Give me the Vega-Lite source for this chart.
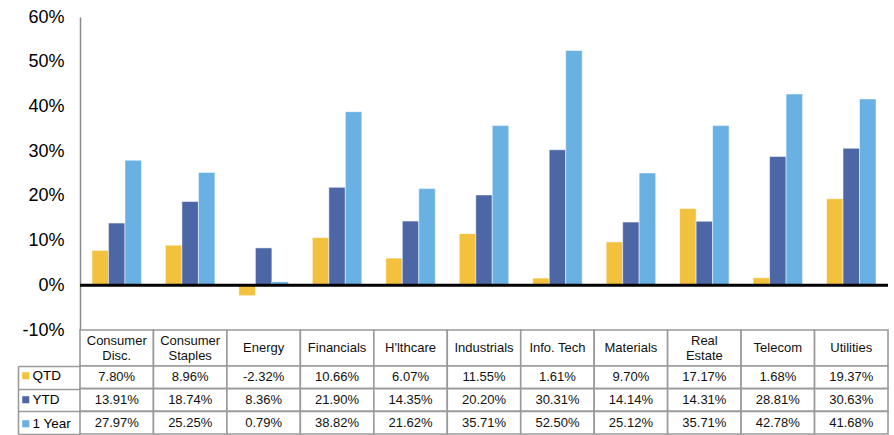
{
  "$schema": "https://vega.github.io/schema/vega-lite/v6.json",
  "padding": {"left": 17, "top": 8, "right": 4, "bottom": 0},
  "config": {
    "view": {"stroke": null},
    "font": "Liberation Sans",
    "locale": {"number": {"decimal": ".", "thousands": ",", "grouping": [3], "currency": ["$", ""], "minus": "-"}}
  },
  "datasets": {
    "returns": [
      {"category": "Consumer\nDisc.", "series": "QTD", "value": 0.0780},
      {"category": "Consumer\nDisc.", "series": "YTD", "value": 0.1391},
      {"category": "Consumer\nDisc.", "series": "1 Year", "value": 0.2797},
      {"category": "Consumer\nStaples", "series": "QTD", "value": 0.0896},
      {"category": "Consumer\nStaples", "series": "YTD", "value": 0.1874},
      {"category": "Consumer\nStaples", "series": "1 Year", "value": 0.2525},
      {"category": "Energy", "series": "QTD", "value": -0.0232},
      {"category": "Energy", "series": "YTD", "value": 0.0836},
      {"category": "Energy", "series": "1 Year", "value": 0.0079},
      {"category": "Financials", "series": "QTD", "value": 0.1066},
      {"category": "Financials", "series": "YTD", "value": 0.2190},
      {"category": "Financials", "series": "1 Year", "value": 0.3882},
      {"category": "H'lthcare", "series": "QTD", "value": 0.0607},
      {"category": "H'lthcare", "series": "YTD", "value": 0.1435},
      {"category": "H'lthcare", "series": "1 Year", "value": 0.2162},
      {"category": "Industrials", "series": "QTD", "value": 0.1155},
      {"category": "Industrials", "series": "YTD", "value": 0.2020},
      {"category": "Industrials", "series": "1 Year", "value": 0.3571},
      {"category": "Info. Tech", "series": "QTD", "value": 0.0161},
      {"category": "Info. Tech", "series": "YTD", "value": 0.3031},
      {"category": "Info. Tech", "series": "1 Year", "value": 0.5250},
      {"category": "Materials", "series": "QTD", "value": 0.0970},
      {"category": "Materials", "series": "YTD", "value": 0.1414},
      {"category": "Materials", "series": "1 Year", "value": 0.2512},
      {"category": "Real\nEstate", "series": "QTD", "value": 0.1717},
      {"category": "Real\nEstate", "series": "YTD", "value": 0.1431},
      {"category": "Real\nEstate", "series": "1 Year", "value": 0.3571},
      {"category": "Telecom", "series": "QTD", "value": 0.0168},
      {"category": "Telecom", "series": "YTD", "value": 0.2881},
      {"category": "Telecom", "series": "1 Year", "value": 0.4278},
      {"category": "Utilities", "series": "QTD", "value": 0.1937},
      {"category": "Utilities", "series": "YTD", "value": 0.3063},
      {"category": "Utilities", "series": "1 Year", "value": 0.4168}
    ],
    "cats": [
      {"category": "Consumer\nDisc."}, {"category": "Consumer\nStaples"}, {"category": "Energy"},
      {"category": "Financials"}, {"category": "H'lthcare"}, {"category": "Industrials"},
      {"category": "Info. Tech"}, {"category": "Materials"}, {"category": "Real\nEstate"},
      {"category": "Telecom"}, {"category": "Utilities"}
    ]
  },
  "spacing": 0,
  "bounds": "flush",
  "vconcat": [
    {
      "width": 808,
      "height": 313,
      "layer": [
        {
          "data": {"name": "returns"},
          "mark": {"type": "bar", "stroke": "#ffffff", "strokeWidth": 1, "strokeOpacity": 0.5},
          "encoding": {
            "x": {"field": "category", "type": "nominal", "sort": null, "scale": {"paddingInner": 0, "paddingOuter": 0}, "axis": null},
            "xOffset": {"field": "series", "type": "nominal", "sort": ["QTD", "YTD", "1 Year"], "scale": {"paddingInner": 0, "paddingOuter": 0.727}},
            "y": {
              "field": "value", "type": "quantitative",
              "scale": {"domain": [-0.1, 0.6], "nice": false, "zero": false},
              "axis": {
                "values": [-0.1, 0, 0.1, 0.2, 0.3, 0.4, 0.5, 0.6],
                "format": ".0%", "ticks": false, "grid": false, "title": null,
                "labelFontSize": 18, "labelColor": "#000000", "labelPadding": 16,
                "domainColor": "#8a8a8a", "domainWidth": 1.5
              }
            },
            "color": {
              "field": "series", "type": "nominal",
              "scale": {"domain": ["QTD", "YTD", "1 Year"], "range": ["#F2C13D", "#4D66A6", "#69B1E3"]},
              "legend": {
                "orient": "none", "legendX": -61, "legendY": 352, "title": null,
                "symbolType": "square", "symbolSize": 50, "symbolStrokeWidth": 0,
                "labelFontSize": 13.5, "labelColor": "#000000", "labelOffset": 0,
                "rowPadding": 9, "padding": 0
              }
            }
          }
        },
        {
          "data": {"values": [{}]},
          "mark": {"type": "rule", "color": "#000000", "strokeWidth": 3},
          "encoding": {"y": {"datum": 0}}
        }
      ]
    },
    {
      "width": 808,
      "height": 36,
      "data": {"name": "cats"},
      "layer": [
        {
          "mark": {"type": "rect", "fill": "#ffffff", "stroke": "#9a9a9a", "strokeWidth": 1.6},
          "encoding": {"x": {"field": "category", "type": "nominal", "sort": null, "scale": {"paddingInner": 0, "paddingOuter": 0}, "axis": null}}
        },
        {
          "transform": [{"filter": "indexof(datum.category, '\\n') < 0"}],
          "mark": {"type": "text", "fontSize": 13, "color": "#111111"},
          "encoding": {
            "x": {"field": "category", "type": "nominal", "sort": null, "scale": {"paddingInner": 0, "paddingOuter": 0}, "axis": null},
            "text": {"field": "category"}
          }
        },
        {
          "transform": [{"filter": "indexof(datum.category, '\\n') >= 0"}],
          "mark": {"type": "text", "fontSize": 13, "lineBreak": "\n", "lineHeight": 15, "dy": -7.5, "color": "#111111"},
          "encoding": {
            "x": {"field": "category", "type": "nominal", "sort": null, "scale": {"paddingInner": 0, "paddingOuter": 0}, "axis": null},
            "text": {"field": "category"}
          }
        }
      ]
    },
    {
      "width": 808,
      "height": 68,
      "data": {"name": "returns"},
      "layer": [
        {
          "mark": {"type": "rect", "fill": "#ffffff", "stroke": "#9a9a9a", "strokeWidth": 1.6},
          "encoding": {
            "x": {"field": "category", "type": "nominal", "sort": null, "scale": {"paddingInner": 0, "paddingOuter": 0}, "axis": null},
            "y": {
              "field": "series", "type": "nominal", "sort": ["QTD", "YTD", "1 Year"],
              "scale": {"paddingInner": 0, "paddingOuter": 0},
              "axis": {
                "title": null, "labels": false, "offset": 62, "tickSize": -62, "tickBand": "extent",
                "tickColor": "#9a9a9a", "tickWidth": 1.6, "domainColor": "#9a9a9a", "domainWidth": 1.6
              }
            }
          }
        },
        {
          "mark": {"type": "text", "fontSize": 13, "color": "#111111"},
          "encoding": {
            "x": {"field": "category", "type": "nominal", "sort": null, "scale": {"paddingInner": 0, "paddingOuter": 0}, "axis": null},
            "y": {"field": "series", "type": "nominal", "sort": ["QTD", "YTD", "1 Year"], "scale": {"paddingInner": 0, "paddingOuter": 0}},
            "text": {"field": "value", "type": "quantitative", "format": ".2%"}
          }
        }
      ]
    }
  ]
}
